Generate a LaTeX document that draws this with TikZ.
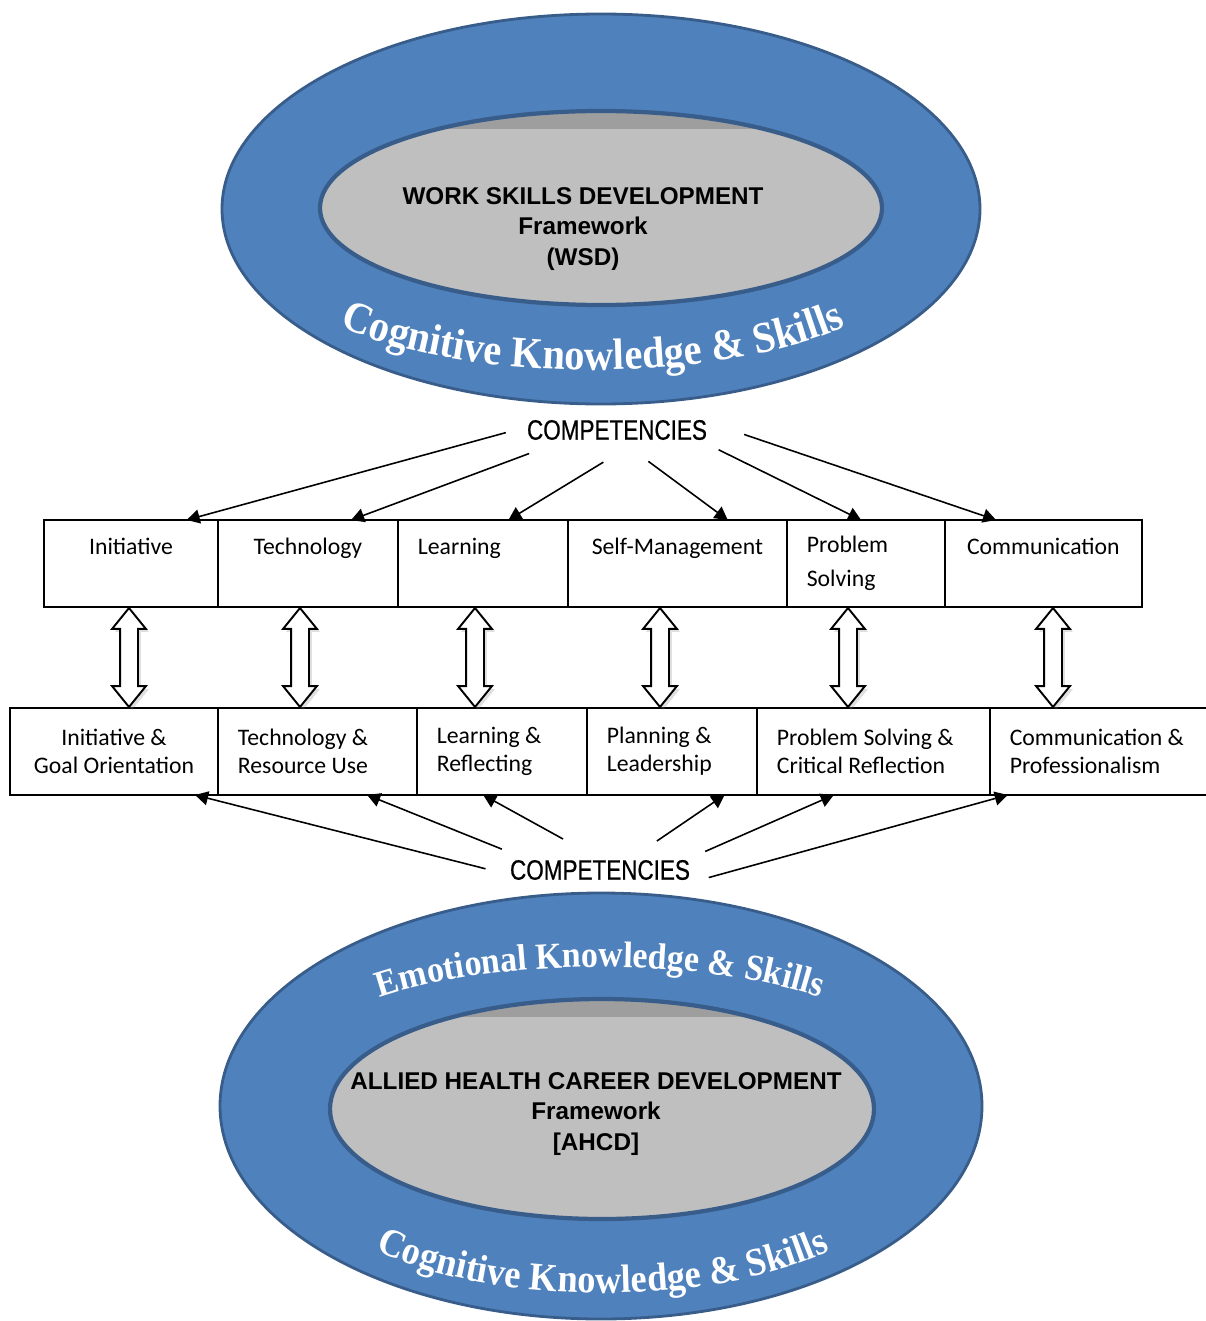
\documentclass[tikz,border=0pt]{standalone}
\usepackage{fontspec}
\setmainfont{Carlito}
\newfontfamily\titlefont{Liberation Sans}
\newfontfamily\compfont[FakeStretch=0.8, FakeBold=0.6]{Liberation Sans}
\newfontfamily\arcfont[FakeStretch=0.92]{Liberation Serif}
\usetikzlibrary{positioning,calc,shapes.geometric,shapes.arrows,arrows.meta,decorations.text,shadows}

\definecolor{ringblue}{HTML}{4F81BD}
\definecolor{ringedge}{HTML}{385D8A}
\definecolor{coregray}{HTML}{BFBFBF}
\definecolor{coreband}{HTML}{9E9E9E}

\begin{document}
\begin{tikzpicture}[x=0.02cm, y=-0.02cm,
  ring/.style = {draw=ringedge, line width=1.6pt, fill=ringblue},
  core/.style = {draw=ringedge, line width=2.4pt, fill=coregray,
    path picture={\fill[coreband] (path picture bounding box.north west)
      rectangle ([yshift=-0.36cm]path picture bounding box.north east);}},
  title/.style = {align=center, font=\titlefont\bfseries\fontsize{13.8}{17.6}\selectfont},
  arctext/.style 2 args = {decorate, decoration={text along path, text align=center,
    text color=white, text={|\arcfont\bfseries\fontsize{#1}{#1}\selectfont|#2 Knowledge {\&} Skills}}},
  comp/.style = {ellipse, inner sep=0pt, minimum width=5.12cm, minimum height=1.28cm,
    font=\compfont\fontsize{16}{16}\selectfont},
  topbox/.style = {draw, line width=1.1pt, outer sep=0pt, minimum height=1.74cm, inner xsep=0.4cm,
    inner ysep=0pt, align=center, anchor=north west, font=\fontsize{13.5}{19.3}\selectfont},
  lowbox/.style = {draw, line width=1.1pt, outer sep=0pt, minimum height=1.74cm, inner xsep=0.4cm,
    inner ysep=0pt, align=center, anchor=north west, font=\fontsize{13.5}{15.9}\selectfont},
  dblarrow/.style = {double arrow, draw, fill=white, line width=1.1pt, inner sep=0.16cm,
    shape border rotate=90, minimum height=1.98cm, minimum width=0.64cm,
    double arrow head extend=0.16cm, double arrow tip angle=78,
    drop shadow={opacity=0.25, shadow xshift=0.06cm, shadow yshift=-0.06cm}},
  link/.style = {line width=0.9pt, -{Triangle[length=0.26cm, width=0.28cm]}}]
  \useasboundingbox (0,0) rectangle (1205,1321);

  % work skills development
  \draw[ring] (601,209) ellipse [x radius=379, y radius=195];
  \draw[core] (601,208) ellipse [x radius=281, y radius=97];
  \node[title] (wsd) at (583,229) {WORK SKILLS DEVELOPMENT\\Framework\\(WSD)};
  \path[arctext={25}{Cognitive}] ($(593,249)+(165:330 and 121)$)
    arc [start angle=165, end angle=15, x radius=330, y radius=121];

  \node[comp] (c1) at (617,430) {COMPETENCIES};

  \node[topbox, minimum width=3.48cm] (t1) at (44,520) {Initiative\\~};
  \node[topbox, minimum width=3.6cm, right=0pt of t1] (t2) {Technology\\~};
  \node[topbox, text width=2.6cm, align=flush left, right=0pt of t2] (t3) {Learning\\~};
  \node[topbox, minimum width=4.38cm, right=0pt of t3] (t4) {Self-Management\\~};
  \node[topbox, text width=2.36cm, align=flush left, right=0pt of t4] (t5) {Problem\\Solving};
  \node[topbox, minimum width=3.94cm, right=0pt of t5] (t6) {Communication\\~};

  \node[lowbox, minimum width=4.16cm] (b1) at (10,708) {Initiative \&\\Goal Orientation};
  \node[lowbox, text width=3.18cm, align=flush left, right=0pt of b1] (b2) {Technology \&\\Resource Use};
  \node[lowbox, text width=2.6cm, align=flush left, right=0pt of b2] (b3) {Learning \&\\Reflecting};
  \node[lowbox, text width=2.6cm, align=flush left, right=0pt of b3] (b4) {Planning \&\\Leadership};
  \node[lowbox, text width=3.86cm, align=flush left, right=0pt of b4] (b5) {Problem Solving \&\\Critical Reflection};
  \node[lowbox, text width=3.7cm, align=flush left, right=0pt of b5] (b6) {Communication \&\\Professionalism};

  \node[dblarrow] (d1) at (129,657.5) {};
  \node[dblarrow] (d2) at (300,657.5) {};
  \node[dblarrow] (d3) at (475,657.5) {};
  \node[dblarrow] (d4) at (660,657.5) {};
  \node[dblarrow] (d5) at (848,657.5) {};
  \node[dblarrow] (d6) at (1053,657.5) {};

  \draw[link, shorten <=-0.3cm] (c1.183) -- ($(t1.north west)!0.82!(t1.north east)$);
  \draw[link] (c1.195) -- ($(t2.north west)!0.74!(t2.north east)$);
  \draw[link] (c1.247) -- ($(t3.north west)!0.65!(t3.north east)$);
  \draw[link] (c1.315) -- ($(t4.north west)!0.73!(t4.north east)$);
  \draw[link] (c1.349) -- ($(t5.north west)!0.47!(t5.north east)$);
  \draw[link] (c1.358) -- ($(t6.north west)!0.26!(t6.north east)$);

  \node[comp] (c2) at (600,870) {COMPETENCIES};

  \draw[link, shorten <=-0.26cm] (c2.178) -- ($(b1.south west)!0.89!(b1.south east)$);
  \draw[link] (c2.168) -- ($(b2.south west)!0.75!(b2.south east)$);
  \draw[link] (c2.140) -- ($(b3.south west)!0.39!(b3.south east)$);
  \draw[link] (c2.27) -- ($(b4.south west)!0.81!(b4.south east)$);
  \draw[link] (c2.10.6) -- ($(b5.south west)!0.33!(b5.south east)$);
  \draw[link, shorten <=-0.4cm] (c2.359) -- ($(b6.south west)!0.08!(b6.south east)$);

  % allied health career development
  \draw[ring] (601,1106) ellipse [x radius=381, y radius=213];
  \draw[core] (602,1109) ellipse [x radius=272, y radius=110];
  \node[title] (ahcd) at (596,1114) {ALLIED HEALTH CAREER DEVELOPMENT\\Framework\\{[AHCD]}};
  \path[arctext={21}{Emotional}] ($(600,1062)+(195:300 and 95)$)
    arc [start angle=195, end angle=345, x radius=300, y radius=95];
  \path[arctext={22.5}{Cognitive}] ($(603,1171)+(165:300 and 122)$)
    arc [start angle=165, end angle=15, x radius=300, y radius=122];
\end{tikzpicture}
\end{document}
